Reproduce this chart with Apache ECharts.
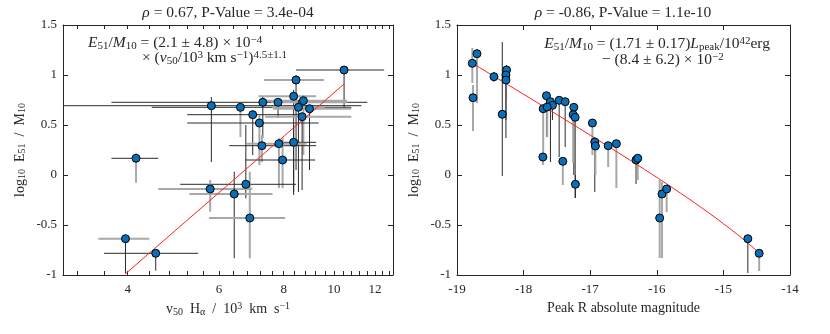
<!DOCTYPE html>
<html>
<head>
<meta charset="utf-8">
<script src="https://cdn.jsdelivr.net/npm/echarts@6/dist/echarts.min.js"></script>
<style>
  html, body { margin: 0; padding: 0; background: #fff; }
  #chart { width: 830px; height: 334px; }
</style>
</head>
<body>
<div id="chart"></div>
<script>
// left panel: v50 (10^3 km/s) vs log10 E51/M10
var v50   = [10.46, 8.45, 8.36, 8.73, 7.29, 7.80, 5.80, 6.60, 8.54, 8.97, 8.68, 6.97, 7.18, 8.36, 7.83, 7.26, 7.96, 4.15, 6.76, 5.77, 6.42, 6.88, 3.96, 4.53];
var v50Lo = [8.45, 7.33, 7.15, 7.36, 3.72, 7.55, 2.50, 4.45, 7.60, 7.63, 7.36, 5.21, 5.21, 7.77, 6.79, 6.28, 6.74, 3.72, 5.05, 4.58, 5.26, 5.74, 3.51, 3.60];
var v50Hi = [12.5, 9.57, 9.24, 10.6, 11.6, 10.6, 11.3, 10.8, 9.60, 10.8, 10.8, 8.81, 9.34, 9.24, 8.86, 9.24, 9.20, 4.58, 8.45, 6.96, 7.61, 8.05, 4.40, 5.47];
var logE   = [1.05, 0.95, 0.787, 0.743, 0.727, 0.727, 0.693, 0.677, 0.677, 0.663, 0.583, 0.603, 0.52, 0.327, 0.313, 0.293, 0.15, 0.167, -0.093, -0.14, -0.19, -0.43, -0.637, -0.783];
var logELo = [0.67, 0.05, -0.2, 0.2, 0.37, 0.57, 0.13, 0.38, -0.17, 0.05, -0.15, 0.2, 0.1, -0.17, -0.13, 0.13, -0.13, -0.077, -0.233, -0.367, -0.833, -0.833, -0.983, -0.957];
var logEHi = [1.05, 1.0, 0.85, 0.8, 0.78, 0.75, 0.78, 0.68, 0.75, 0.7, 0.6, 0.65, 0.6, 0.5, 0.37, 0.4, 0.37, 0.217, 0.5, -0.05, 0.033, 0.033, -0.6, -0.75];
// 0 = direct measurement, 1 = estimated (drawn lighter)
var vMethod = [0,1,1,1,0,1,0,0,1,1,1,0,0,0,1,0,0,0,0,1,1,1,1,0];
var eMethod = [0,0,0,1,0,0,0,1,0,0,0,0,1,0,1,1,1,1,0,1,0,1,0,0];

// right panel: peak R magnitude vs log10 E51/M10
var magR   = [-18.77, -18.70, -18.76, -18.445, -18.256, -18.265, -18.265, -18.32, -17.657, -17.597, -17.567, -17.706, -17.646, -17.466, -17.376, -17.246, -17.256, -17.226, -16.967, -16.931, -16.922, -16.73, -16.607, -17.711, -17.411, -17.222, -16.312, -16.286, -15.922, -15.852, -15.957, -14.633, -14.463];
var logER  = [1.117, 1.213, 0.773, 0.983, 1.05, 1.0, 0.95, 0.607, 0.793, 0.733, 0.697, 0.663, 0.68, 0.747, 0.733, 0.677, 0.603, 0.577, 0.52, 0.33, 0.29, 0.293, 0.313, 0.18, 0.137, -0.093, 0.15, 0.167, -0.19, -0.14, -0.43, -0.637, -0.783];
var logERLo = [0.92, 0.72, 0.44, 0.93, 0.75, 0.55, 0.37, -0.01, 0.38, 0.13, 0.55, 0.12, 0.38, 0.18, 0.28, 0.0, 0.12, -0.23, 0.2, -0.17, 0.0, 0.08, -0.13, 0.1, -0.1, -0.23, -0.09, -0.05, -0.83, -0.37, -0.83, -0.98, -0.96];
var logERHi = [1.27, 1.26, 0.9, 1.03, 1.1, 1.05, 1.0, 1.33, 0.82, 0.76, 0.72, 0.7, 0.7, 0.76, 0.76, 0.7, 0.63, 0.6, 0.56, 0.38, 0.33, 0.31, 0.34, 0.2, 0.16, 0.0, 0.17, 0.2, -0.07, -0.1, -0.05, -0.62, -0.77];
var rMethod = [1,1,1,1,0,1,0,0,0,0,0,1,1,0,0,0,1,0,1,0,1,1,1,1,1,0,0,1,1,1,1,0,1];

// fits
var fitA = 2.1e-4, fitIdx = 4.5;          // E/M = A * v^idx
var fitSlope = 1.71, fitOff = 0.084;      // E/M = slope*L42 - off
var magRef = -16.55;                      // magnitude of 1e42 erg/s

// ticks
var vLabels = [4, 6, 8, 10, 12];
var vTicks = [3.2, 3.6, 4, 4.4, 4.8, 5.2, 5.6, 6, 6.4, 6.8, 7.2, 7.6, 8, 8.4, 8.8, 9.2, 9.6, 10, 10.4, 10.8, 11.2, 11.6, 12, 12.4, 12.8];

var FONT = 'Liberation Serif';
var INK = '#262626';
var lg = Math.log10;

var chart = echarts.init(document.getElementById('chart'));

function errBars(params, api) {
  var cs = params.coordSys;
  var cx = function (p) { return Math.max(cs.x, Math.min(cs.x + cs.width, p)); };
  var cy = function (p) { return Math.max(cs.y, Math.min(cs.y + cs.height, p)); };
  var x = api.value(0), y = api.value(1);
  var p = api.coord([x, y]);
  var xl = cx(api.coord([api.value(2), y])[0]);
  var xh = cx(api.coord([api.value(3), y])[0]);
  var yl = cy(api.coord([x, api.value(4)])[1]);
  var yh = cy(api.coord([x, api.value(5)])[1]);
  var sx = api.value(6) ? { stroke: '#a8a8a8', lineWidth: 2 } : { stroke: '#2a2a2a', lineWidth: 1 };
  var sy = api.value(7) ? { stroke: '#a8a8a8', lineWidth: 2 } : { stroke: '#2a2a2a', lineWidth: 1 };
  var kids = [];
  if (Math.abs(xh - xl) > 0.5) kids.push({ type: 'line', shape: { x1: xl, y1: p[1], x2: xh, y2: p[1] }, style: sx });
  if (Math.abs(yh - yl) > 0.5) kids.push({ type: 'line', shape: { x1: p[0], y1: yl, x2: p[0], y2: yh }, style: sy });
  return { type: 'group', children: kids };
}

var leftErr = v50.map(function (v, i) {
  return [lg(v), logE[i], lg(v50Lo[i]), lg(v50Hi[i]), logELo[i], logEHi[i], vMethod[i], eMethod[i]];
});
var leftPts = v50.map(function (v, i) { return [lg(v), logE[i]]; });
var rightErr = magR.map(function (m, i) {
  return [m, logER[i], m, m, logERLo[i], logERHi[i], 0, rMethod[i]];
});
var rightPts = magR.map(function (m, i) { return [m, logER[i]]; });

var vMin = Math.min.apply(null, v50), vMax = Math.max.apply(null, v50);
var leftFit = [vMin, vMax].map(function (v) { return [lg(v), lg(fitA) + fitIdx * lg(v)]; });
var mMin = Math.min.apply(null, magR), mMax = Math.max.apply(null, magR);
var rightFit = [];
for (var k = 0; k <= 40; k++) {
  var m = mMin + (mMax - mMin) * k / 40;
  var L = Math.pow(10, -0.4 * (m - magRef));
  rightFit.push([m, lg(fitSlope * L - fitOff)]);
}

var rich = {
  i:  { fontFamily: FONT, fontSize: 15.5, fontStyle: 'italic', color: INK, lineHeight: 17 },
  sb: { fontFamily: FONT, fontSize: 11, color: INK, lineHeight: 10, verticalAlign: 'bottom' },
  sp: { fontFamily: FONT, fontSize: 11, color: INK, lineHeight: 10, verticalAlign: 'top' }
};
var axRich = {
  sb: { fontFamily: FONT, fontSize: 10, color: INK, lineHeight: 10, verticalAlign: 'bottom' },
  sp: { fontFamily: FONT, fontSize: 10, color: INK, lineHeight: 10, verticalAlign: 'top' }
};

function label(text, x, y, align, size) {
  return {
    type: 'text', x: x, y: y, z: 10,
    style: {
      text: text, fill: INK, font: (size || 15.5) + 'px ' + FONT,
      fontFamily: FONT, fontSize: size || 15.5, lineHeight: 17,
      align: align, verticalAlign: 'middle', rich: rich
    }
  };
}

var line = { show: true, onZero: false, lineStyle: { color: INK, width: 1 } };
var labelStyle = { color: INK, fontFamily: FONT, fontSize: 13 };

function yAx(grid, pos, name) {
  return {
    type: 'value', gridIndex: grid, position: pos, min: -1, max: 1.5, interval: 0.5,
    axisLine: line, splitLine: { show: false },
    axisTick: { show: true, inside: true, length: 5, lineStyle: { color: INK } },
    axisLabel: Object.assign({ show: pos === 'left', margin: 6 }, labelStyle),
    name: pos === 'left' ? name : '', nameLocation: 'middle', nameGap: 36,
    nameTextStyle: { color: INK, fontFamily: FONT, fontSize: 14, rich: axRich }
  };
}

var option = {
  backgroundColor: '#fff',
  animation: false,
  grid: [
    { left: 63, top: 25, width: 330, height: 250 },
    { left: 457, top: 25, width: 333, height: 250 }
  ],
  xAxis: [
    {
      type: 'value', gridIndex: 0, position: 'bottom', min: lg(3), max: lg(13),
      axisLine: line, splitLine: { show: false },
      axisTick: { show: true, inside: true, length: 4, customValues: vTicks.map(lg), lineStyle: { color: INK } },
      axisLabel: Object.assign({
        margin: 8, customValues: vLabels.map(lg),
        formatter: function (v) { return String(Math.round(Math.pow(10, v))); }
      }, labelStyle),
      name: 'v{sb|50}  H{sb|α}  /  10{sp|3}  km  s{sp|−1}', nameLocation: 'middle', nameGap: 22,
      nameTextStyle: { color: INK, fontFamily: FONT, fontSize: 14, lineHeight: 16, rich: axRich }
    },
    {
      type: 'value', gridIndex: 0, position: 'top', min: lg(3), max: lg(13),
      axisLine: line, splitLine: { show: false },
      axisTick: { show: true, inside: true, length: 4, customValues: vTicks.map(lg), lineStyle: { color: INK } },
      axisLabel: { show: false }
    },
    {
      type: 'value', gridIndex: 1, position: 'bottom', min: -19, max: -14, interval: 1,
      axisLine: line, splitLine: { show: false },
      axisTick: { show: true, inside: true, length: 5, lineStyle: { color: INK } },
      axisLabel: Object.assign({ margin: 8 }, labelStyle),
      name: 'Peak R absolute magnitude', nameLocation: 'middle', nameGap: 22,
      nameTextStyle: { color: INK, fontFamily: FONT, fontSize: 14 }
    },
    {
      type: 'value', gridIndex: 1, position: 'top', min: -19, max: -14, interval: 1,
      axisLine: line, splitLine: { show: false },
      axisTick: { show: true, inside: true, length: 5, lineStyle: { color: INK } },
      axisLabel: { show: false }
    }
  ],
  yAxis: [
    yAx(0, 'left', 'log{sb|10}  E{sb|51}  /  M{sb|10}'),
    yAx(0, 'right'),
    yAx(1, 'left', 'log{sb|10}  E{sb|51}  /  M{sb|10}'),
    yAx(1, 'right')
  ],
  graphic: [
    label('{i|ρ} = 0.67, P-Value = 3.4e-04', 228, 13, 'center'),
    label('{i|ρ} = -0.86, P-Value = 1.1e-10', 623, 13, 'center'),
    label('{i|E}{sb|51}/{i|M}{sb|10} = (2.1 ± 4.8) × 10{sp|−4}', 88, 43, 'left'),
    label('× ({i|v}{sb|50}/10{sp|3} km s{sp|−1}){sp|4.5±1.1}', 142, 58, 'left'),
    label('{i|E}{sb|51}/{i|M}{sb|10} = (1.71 ± 0.17){i|L}{sb|peak}/10{sp|42}erg', 770, 44, 'right'),
    label('− (8.4 ± 6.2) × 10{sp|−2}', 602, 60, 'left')
  ],
  series: [
    { type: 'custom', xAxisIndex: 0, yAxisIndex: 0, renderItem: errBars, data: leftErr, z: 1, silent: true },
    { type: 'line', xAxisIndex: 0, yAxisIndex: 0, data: leftFit, showSymbol: false, z: 2,
      lineStyle: { color: '#ff2020', width: 1 } },
    { type: 'scatter', xAxisIndex: 0, yAxisIndex: 0, data: leftPts, symbolSize: 8, z: 3,
      itemStyle: { color: '#0b6fb8', borderColor: '#000', borderWidth: 1, opacity: 1 } },
    { type: 'custom', xAxisIndex: 2, yAxisIndex: 2, renderItem: errBars, data: rightErr, z: 1, silent: true },
    { type: 'line', xAxisIndex: 2, yAxisIndex: 2, data: rightFit, showSymbol: false, z: 2,
      lineStyle: { color: '#ff2020', width: 1 } },
    { type: 'scatter', xAxisIndex: 2, yAxisIndex: 2, data: rightPts, symbolSize: 8, z: 3,
      itemStyle: { color: '#0b6fb8', borderColor: '#000', borderWidth: 1, opacity: 1 } }
  ]
};

chart.setOption(option);
</script>
</body>
</html>
